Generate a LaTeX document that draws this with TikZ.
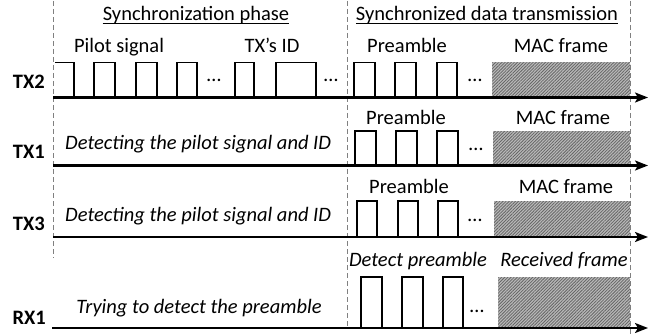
\documentclass[tikz,border=0pt]{standalone}
\usepackage{fontspec}
\setmainfont{Carlito}
\usetikzlibrary{arrows.meta,patterns.meta}

\tikzset{
  guide/.style={draw=gray, line width=0.9pt, dash pattern=on 5pt off 3pt},
  timeaxis/.style={line width=2.2pt, -{Stealth[length=13pt,width=10pt,inset=3pt]}},
  wave/.style={line width=1.8pt, line join=miter},
  frame/.style={fill=gray!55, postaction={pattern={Lines[angle=45,distance=2.2pt,line width=0.8pt]}, pattern color=black!60}},
  txt/.style={font=\fontsize{20.5}{24}\selectfont, inner sep=0pt, anchor=base},
  itxt/.style={txt, font=\fontsize{20.5}{24}\selectfont\itshape},
  who/.style={txt, font=\fontsize{20.5}{24}\selectfont\bfseries, anchor=base east},
  gap/.style={font=\fontsize{20.5}{24}\selectfont, inner sep=0pt}
}

\begin{document}
\begin{tikzpicture}[x=1pt,y=-1pt]
\useasboundingbox (0,0) rectangle (650,334);

% phase boundaries
\draw[guide] (53.5,1) -- (53.5,258);
\draw[guide] (347,1) -- (347,326);
\draw[guide] (630.5,1) -- (630.5,334);

% phase headings
\node[txt] (hsync) at (196,20.5) {Synchronization phase};
\node[txt] (hdata) at (487,20.5) {Synchronized data transmission};
\draw[line width=0.9pt] ([yshift=-3pt]hsync.base west) -- ([yshift=-3pt]hsync.base east);
\draw[line width=0.9pt] ([yshift=-3pt]hdata.base west) -- ([yshift=-3pt]hdata.base east);

% ---------- TX2 ----------
\node[who] (ltx2) at (45,88.5) {TX2};
\node[txt] (pilot) at (119,53) {Pilot signal};
\node[txt] (txid) at (272,53) {TX’s ID};
\node[txt] (pre2) at (407,53) {Preamble};
\node[txt] (mac2) at (561,53) {MAC frame};
\fill[frame] (492,62.5) rectangle (630,97.5);
\draw[wave] (55,62.5) -- (74,62.5) -- (74,97.5);
\foreach \a/\b in {94/115,136/157,177/197,235/254,276/316,354/375,395/416,437/457}
  \draw[wave] (\a,97.5) |- (\b,62.5) -- (\b,97.5);
\node[gap] (d2a) at (214,80) {…};
\node[gap] (d2b) at (331,80) {…};
\node[gap] (d2c) at (475,80) {…};
\draw[timeaxis] (53,97.5) -- (648,97.5);

% ---------- TX1 ----------
\node[who] (ltx1) at (45,158) {TX1};
\node[itxt, anchor=base west] (det1) at (65,149.5) {Detecting the pilot signal and ID};
\node[txt] (pre1) at (406,124.5) {Preamble};
\node[txt] (mac1) at (563,124.5) {MAC frame};
\fill[frame] (493,131) rectangle (630,165.5);
\foreach \a/\b in {355/376,396/417,437/458}
  \draw[wave] (\a,165.5) |- (\b,131) -- (\b,165.5);
\node[gap] (d1) at (476,149) {…};
\draw[timeaxis] (53,165.5) -- (648,165.5);

% ---------- TX3 ----------
\node[who] (ltx3) at (45,230) {TX3};
\node[itxt, anchor=base west] (det3) at (65,221.5) {Detecting the pilot signal and ID};
\node[txt] (pre3) at (409,193.5) {Preamble};
\node[txt] (mac3) at (566,193.5) {MAC frame};
\fill[frame] (494,201) rectangle (630,237);
\foreach \a/\b in {357/377,398/418,438/458}
  \draw[wave] (\a,237) |- (\b,201) -- (\b,237);
\node[gap] (d3) at (475,220) {…};
\draw[timeaxis] (53,237) -- (648,237);

% ---------- RX1 ----------
\node[who] (lrx1) at (46,324) {RX1};
\node[itxt] (try) at (199,313.5) {Trying to detect the preamble};
\node[itxt] (detp) at (418,266.5) {Detect preamble};
\node[itxt] (recv) at (564,266.5) {Received frame};
\fill[frame] (498,277) rectangle (630,328);
\foreach \a/\b in {361/382,402/423,443/463}
  \draw[wave] (\a,328) |- (\b,277) -- (\b,328);
\node[gap] (d4) at (477,311) {…};
\draw[timeaxis] (52,328) -- (648,328);
\end{tikzpicture}
\end{document}
